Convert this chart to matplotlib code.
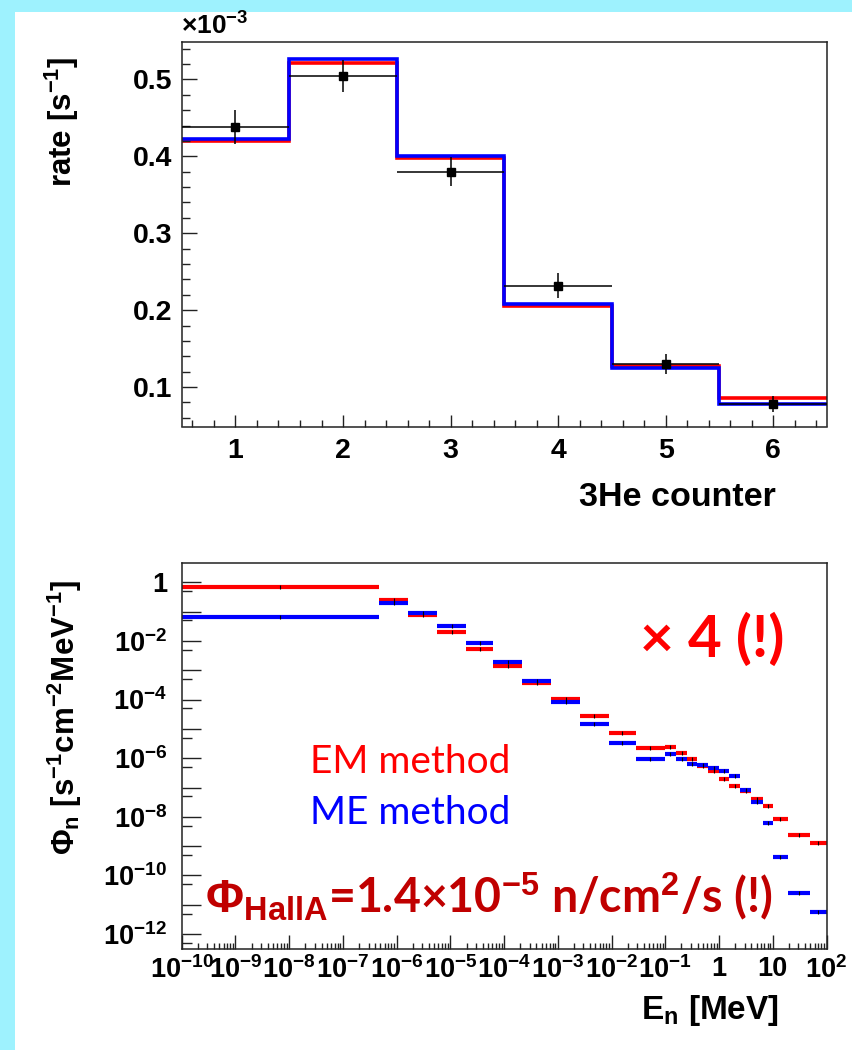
import matplotlib
matplotlib.use('Agg')
import matplotlib.pyplot as plt
import numpy as np
from matplotlib.ticker import FixedLocator, FixedFormatter, MultipleLocator, FormatStrFormatter, NullFormatter

plt.rcParams['font.family'] = ['Liberation Sans', 'DejaVu Sans']
plt.rcParams['font.weight'] = 'bold'
plt.rcParams['mathtext.fontset'] = 'custom'
plt.rcParams['mathtext.rm'] = 'Liberation Sans'
plt.rcParams['mathtext.bf'] = 'Liberation Sans:bold'
plt.rcParams['mathtext.it'] = 'Liberation Sans:italic'

# --- top panel: rate per 3He counter (units of 1e-3 s^-1)
counter = [1, 2, 3, 4, 5, 6]
rate_meas = [0.438, 0.504, 0.380, 0.232, 0.130, 0.078]
rate_err = [0.022, 0.021, 0.019, 0.016, 0.013, 0.011]
rate_em = [0.420, 0.521, 0.398, 0.205, 0.127, 0.0855]
rate_me = [0.422, 0.527, 0.400, 0.208, 0.1245, 0.078]

# --- bottom panel: unfolded neutron spectrum [s^-1 cm^-2 MeV^-1]
e_edges = [1e-10, 4.72e-7, 1.66e-6, 5.75e-6, 1.97e-5, 6.34e-5, 2.19e-4, 7.53e-4,
           2.61e-3, 8.79e-3, 2.88e-2, 9.70e-2, 0.158, 0.257, 0.389, 0.624, 1.01,
           1.56, 2.49, 4.0, 6.49, 10.0, 19.3, 50.1, 100.0]
flux_em = [0.674, 0.249, 0.0748, 0.0197, 5.16e-3, 1.36e-3, 3.57e-4, 1.02e-4,
           2.80e-5, 7.36e-6, 2.16e-6, 2.45e-6, 1.53e-6, 9.31e-7, 5.5e-7, 3.63e-7,
           1.89e-7, 1.14e-7, 7.53e-8, 3.93e-8, 2.37e-8, 8.15e-9, 2.37e-9, 1.30e-9]
flux_me = [0.067, 0.201, 0.0918, 0.0323, 8.47e-3, 1.95e-3, 4.39e-4, 8.55e-5,
           1.49e-5, 3.20e-6, 9.31e-7, 1.35e-6, 9.31e-7, 6.44e-7, 5.68e-7, 4.49e-7,
           3.54e-7, 2.45e-7, 8.36e-8, 3.10e-8, 6.24e-9, 4.32e-10, 2.43e-11, 5.58e-12]

x_labels = [r'$\mathbf{10^{-10}}$', r'$\mathbf{10^{-9}}$', r'$\mathbf{10^{-8}}$', r'$\mathbf{10^{-7}}$',
            r'$\mathbf{10^{-6}}$', r'$\mathbf{10^{-5}}$', r'$\mathbf{10^{-4}}$', r'$\mathbf{10^{-3}}$',
            r'$\mathbf{10^{-2}}$', r'$\mathbf{10^{-1}}$', '1', '10', r'$\mathbf{10^{2}}$']
y_labels = [r'$\mathbf{10^{-12}}$', '', r'$\mathbf{10^{-10}}$', '', r'$\mathbf{10^{-8}}$', '',
            r'$\mathbf{10^{-6}}$', '', r'$\mathbf{10^{-4}}$', '', r'$\mathbf{10^{-2}}$', '', '1']

W, H = 852, 1050
fig = plt.figure(figsize=(W / 100, H / 100), dpi=100)
fig.patch.set_facecolor('#9ef2fe')
fig.add_artist(plt.Rectangle((15 / W, 0), 1, 1 - 12 / H, transform=fig.transFigure,
                             facecolor='white', edgecolor='none', zorder=-5))


def fx(px):
    return px / W


def fy(py):
    return 1 - py / H


def style(ax, size):
    for s in ax.spines.values():
        s.set_linewidth(1.1)
        s.set_color('#222222')
    ax.tick_params(which='both', direction='in', top=False, right=False,
                   labelsize=size, color='#222222', width=1.0)


# top panel
ax1 = fig.add_axes([fx(181.7), fy(426.5), fx(827) - fx(181.7), fy(41.7) - fy(426.5)])
edges = [c - 0.5 for c in counter] + [counter[-1] + 0.5]
ax1.stairs(rate_em, edges, baseline=None, color='red', lw=2.6)
ax1.stairs(rate_me, edges, baseline=None, color='blue', lw=2.6)
ax1.errorbar(counter, rate_meas, yerr=rate_err, xerr=0.5, fmt='s', color='black',
             ms=6, lw=1.1, capsize=0, zorder=5)
ax1.set_xlim(0.5, 6.5)
ax1.set_ylim(0.0488, 0.549)
style(ax1, 20.5)
ax1.xaxis.set_major_locator(MultipleLocator(1))
ax1.xaxis.set_minor_locator(MultipleLocator(0.2))
ax1.yaxis.set_major_locator(MultipleLocator(0.1))
ax1.yaxis.set_minor_locator(MultipleLocator(0.02))
ax1.yaxis.set_major_formatter(FormatStrFormatter('%.1f'))
ax1.tick_params(axis='y', which='major', length=10.8, pad=6.5)
ax1.tick_params(axis='y', which='minor', length=5.8)
ax1.tick_params(axis='x', which='major', length=9, pad=8)
ax1.tick_params(axis='x', which='minor', length=4.8)

fig.text(fx(181), fy(40), r'$\mathrm{\times10^{-3}}$', fontsize=19, ha='left', va='bottom',
         weight='normal')
fig.text(fx(62), fy(56), r'rate [s$^{\mathbf{-1}}$]', rotation=90, ha='center', va='top',
         fontsize=22.5)
fig.text(fx(776), fy(498), '3He counter', ha='right', va='center', fontsize=24.5)

# bottom panel
ax2 = fig.add_axes([fx(181.7), fy(949), fx(826.5) - fx(181.7), fy(563.3) - fy(949)])
ax2.set_xscale('log')
ax2.set_yscale('log')
lo = np.array(e_edges[:-1])
hi = np.array(e_edges[1:])
mid = np.sqrt(lo * hi)
ax2.hlines(flux_em, lo, hi, color='red', lw=3)
ax2.hlines(flux_me, lo, hi, color='blue', lw=3)
ax2.plot(mid, flux_em, '|', color='black', ms=3, mew=0.8)
ax2.plot(mid, flux_me, '|', color='black', ms=3, mew=0.8)
ax2.set_xlim(1e-10, 1e2)
ax2.set_ylim(3.1e-13, 4.45)
style(ax2, 19.5)
ax2.xaxis.set_major_locator(FixedLocator([10.0 ** k for k in range(-10, 3)]))
ax2.xaxis.set_major_formatter(FixedFormatter(x_labels))
ax2.xaxis.set_minor_locator(FixedLocator([m * 10.0 ** k for k in range(-10, 2) for m in range(2, 10)]))
ax2.xaxis.set_minor_formatter(NullFormatter())
ax2.yaxis.set_major_locator(FixedLocator([10.0 ** k for k in range(-12, 1)]))
ax2.yaxis.set_major_formatter(FixedFormatter(y_labels))
ax2.yaxis.set_minor_locator(FixedLocator([5 * 10.0 ** k for k in range(-13, 0)]))
ax2.yaxis.set_minor_formatter(NullFormatter())
ax2.tick_params(axis='y', which='major', length=13.5, pad=10.5)
ax2.tick_params(axis='y', which='minor', length=7)
ax2.tick_params(axis='x', which='major', length=10, pad=5)
ax2.tick_params(axis='x', which='minor', length=4.3)

fig.text(fx(65), fy(580), r'$\mathrm{\Phi_{n}}$ [s$^{\mathbf{-1}}$cm$^{\mathbf{-2}}$MeV$^{\mathbf{-1}}$]',
         rotation=90, ha='center', va='top', fontsize=22.5)
fig.text(fx(779), fy(1010), r'E$_{\mathbf{n}}$ [MeV]', ha='right', va='center', fontsize=24)

fig.text(fx(640), fy(640), '× 4 (!)', color='red', fontsize=42, family='Lato', weight='bold',
         ha='left', va='center')
fig.text(fx(310), fy(762), 'EM method', color='red', fontsize=28, family='Lato', weight='normal',
         ha='left', va='center')
fig.text(fx(310), fy(813), 'ME method', color='blue', fontsize=28, family='Lato', weight='normal',
         ha='left', va='center')
fig.text(fx(205), fy(913), r'$\mathbf{\Phi_{HallA}}$=1.4×10$^{\mathbf{-5}}$ n/cm$^{\mathbf{2}}$/s (!)',
         color='#c00000', fontsize=33.5, family='Lato', weight='bold', ha='left', va='baseline')

fig.savefig('out.png', dpi=100)
